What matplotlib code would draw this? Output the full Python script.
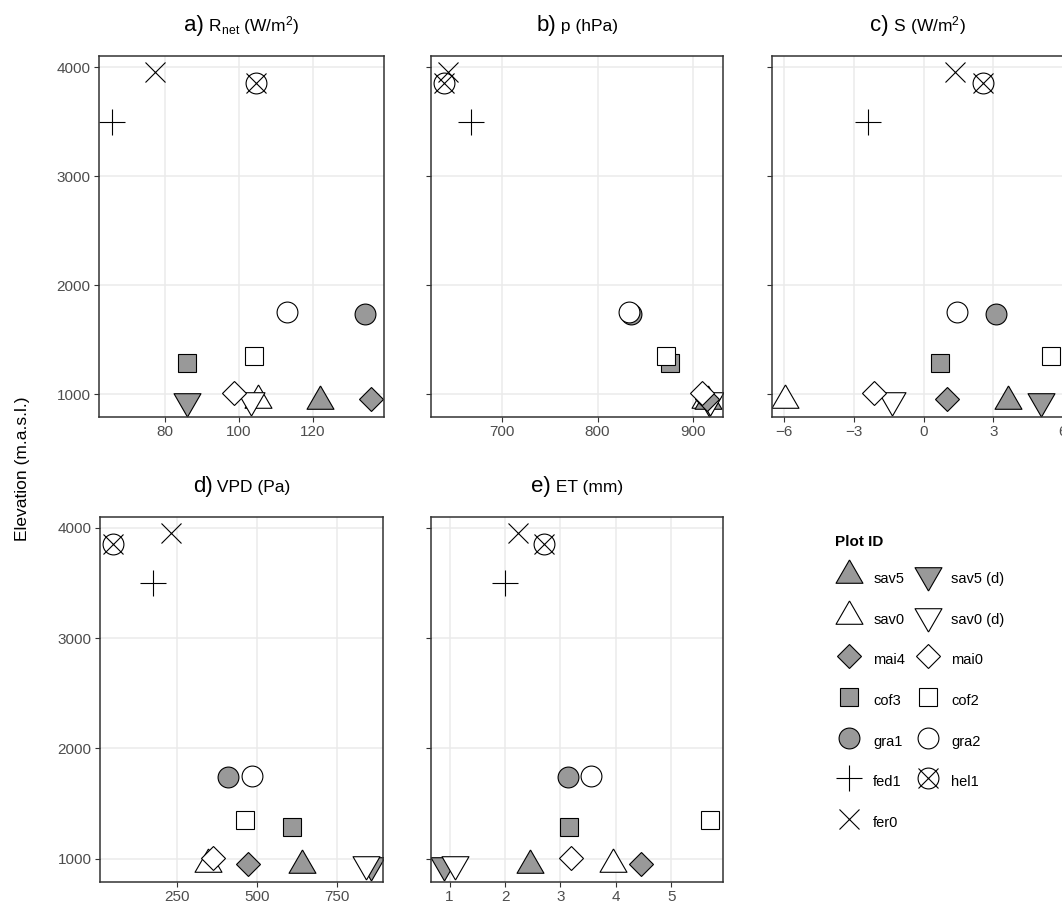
import matplotlib
matplotlib.use("Agg")
import matplotlib.pyplot as plt
from matplotlib.legend_handler import HandlerTuple

plt.rcParams['font.family'] = ['Liberation Sans', 'DejaVu Sans']
plt.rcParams['mathtext.default'] = 'regular'

# plot ids in drawing order, with elevation and the five climate variables
plot_ids = ["sav0", "sav5", "sav5 (d)", "sav0 (d)", "mai4", "mai0", "cof3", "cof2",
            "gra1", "gra2", "fed1", "hel1", "fer0"]
elevation = [948, 942, 942, 948, 955, 1010, 1290, 1350, 1740, 1750, 3500, 3850, 3950]
rnet = [105.2, 121.9, 86.1, 103.2, 135.7, 98.7, 85.9, 104.2, 134.0, 112.9, 65.7, 104.7, 77.3]
pressure = [912, 915, 916, 917.4, 914, 909, 875.5, 871, 835, 833, 668, 639.8, 643.6]
shortwave = [-5.97, 3.62, 5.06, -1.35, 1.0, -2.13, 0.72, 5.49, 3.11, 1.45, -2.4, 2.57, 1.35]
vpd = [347, 642, 855.6, 841, 471, 363, 610, 461, 410, 483, 172.8, 47.9, 229]
et = [3.94, 2.46, 0.90, 1.10, 4.46, 3.20, 3.15, 5.70, 3.14, 3.56, 2.0, 2.71, 2.23]

legend_order = ["sav5", "sav0", "mai4", "cof3", "gra1", "fed1", "fer0",
                "sav5 (d)", "sav0 (d)", "mai0", "cof2", "gra2", "hel1"]

GREY = "#999999"
TRI_UP = [(0, 1), (-0.866, -0.5), (0.866, -0.5), (0, 1)]
TRI_DOWN = [(0, -1), (-0.866, 0.5), (0.866, 0.5), (0, -1)]

styles = {
    "sav5": (TRI_UP, GREY, 22.4), "sav5 (d)": (TRI_DOWN, GREY, 22.4),
    "sav0": (TRI_UP, "white", 22.4), "sav0 (d)": (TRI_DOWN, "white", 22.4),
    "mai4": ("D", GREY, 11.9), "mai0": ("D", "white", 11.9),
    "cof3": ("s", GREY, 12.7), "cof2": ("s", "white", 12.7),
    "gra1": ("o", GREY, 15), "gra2": ("o", "white", 15),
    "fed1": ("+", None, 18.7), "hel1": ("hel", None, 15), "fer0": ("x", None, 15),
}


def draw_point(ax, pid, x, y):
    marker, fill, ms = styles[pid]
    if marker == "hel":
        c, = ax.plot([x], [y], ls="none", marker="o", ms=ms, mfc="none",
                     mec="black", mew=0.8)
        k, = ax.plot([x], [y], ls="none", marker="x", ms=ms, mec="black", mew=0.8)
        return (c, k)
    if fill is None:
        h, = ax.plot([x], [y], ls="none", marker=marker, ms=ms, mec="black", mew=0.8)
    else:
        h, = ax.plot([x], [y], ls="none", marker=marker, ms=ms, mfc=fill,
                     mec="black", mew=0.8)
    return h


fig = plt.figure(figsize=(10.62, 9.07), dpi=100)

panels = [
    ([0.0932, 0.5402, 0.2684, 0.398], rnet, "a)", r" $R_{net}$ (W/m$^{2}$)", [80, 100, 120], True),
    ([0.4056, 0.5402, 0.2755, 0.398], pressure, "b)", " p (hPa)", [700, 800, 900], False),
    ([0.7267, 0.5402, 0.2755, 0.398], shortwave, "c)", r" S (W/m$^{2}$)", [-6, -3, 0, 3, 6], False),
    ([0.0942, 0.0279, 0.2668, 0.4024], vpd, "d)", " VPD (Pa)", [250, 500, 750], True),
    ([0.4056, 0.0279, 0.2755, 0.4024], et, "e)", " ET (mm)", [1, 2, 3, 4, 5], False),
]

titles = []
handles = {}
for rect, values, tag, rest, xticks, ylabels in panels:
    ax = fig.add_axes(rect)
    for i, pid in enumerate(plot_ids):
        h = draw_point(ax, pid, values[i], elevation[i])
        handles.setdefault(pid, h)
    ax.set_xticks(xticks)
    ax.set_yticks([1000, 2000, 3000, 4000])
    ax.grid(True, color="#EBEBEB", lw=1.1)
    ax.set_axisbelow(True)
    for s in ax.spines.values():
        s.set_color("#333333")
        s.set_linewidth(1.1)
    ax.tick_params(direction="out", length=3.5, width=0.8, color="#333333",
                   labelcolor="#4D4D4D", labelsize=11, pad=2.5)
    if not ylabels:
        ax.tick_params(labelleft=False)
    t1 = ax.text(0.5, 1.069, tag, transform=ax.transAxes, fontsize=16,
                 ha="left", va="baseline")
    t2 = ax.text(0.5, 1.069, rest, transform=ax.transAxes, fontsize=12.5,
                 ha="left", va="baseline")
    titles.append((ax, t1, t2))

fig.text(0.021, 0.483, "Elevation (m.a.s.l.)", rotation=90, ha="center",
         va="center", fontsize=12.5)

fig.legend([handles[p] for p in legend_order], legend_order, ncol=2,
           loc="upper left", bbox_to_anchor=(0.779, 0.418), frameon=False,
           title="Plot ID", title_fontproperties={"weight": "bold", "size": 11},
           fontsize=10.5, handlelength=2.0, handleheight=2.0, labelspacing=1.24,
           handletextpad=0.64, columnspacing=0.55, borderpad=0, alignment="left",
           numpoints=1, handler_map={tuple: HandlerTuple(ndivide=1)})

# center the two-size panel titles
fig.canvas.draw()
r = fig.canvas.get_renderer()
for ax, t1, t2 in titles:
    w1 = t1.get_window_extent(r).width
    w2 = t2.get_window_extent(r).width
    aw = ax.get_window_extent(r).width
    left = 0.5 - (w1 + w2) / 2 / aw
    t1.set_x(left)
    t2.set_x(left + w1 / aw)

fig.savefig("out.png", dpi=100)
